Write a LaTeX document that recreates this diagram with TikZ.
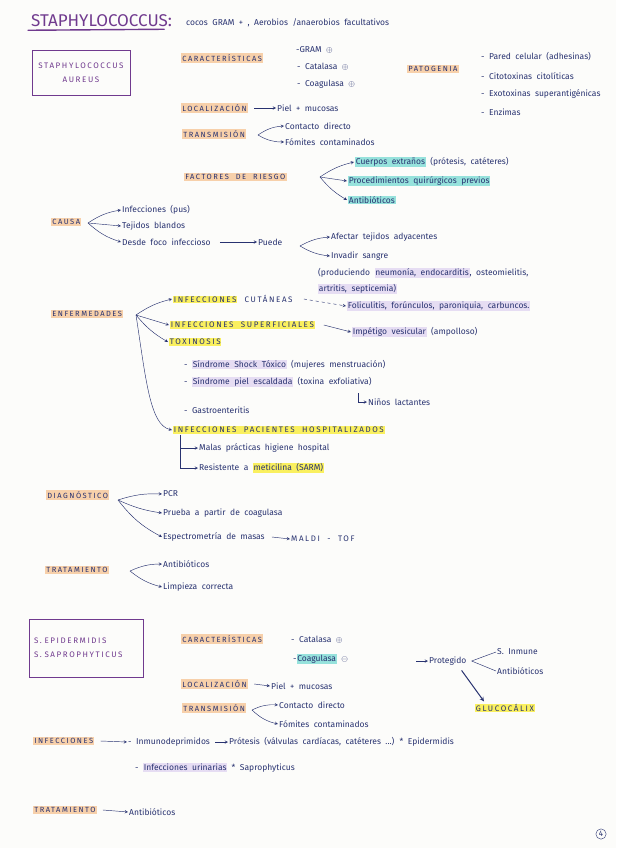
\documentclass[tikz,border=0pt]{standalone}
\usepackage{fontspec}
\setmainfont{Fira Sans}[WordSpace=2]
\newfontfamily\cabecera[LetterSpace=20, WordSpace=2]{Fira Sans}
\usepackage{amssymb}
\usepackage{tikz}
\usetikzlibrary{positioning, arrows.meta, calc}

\definecolor{tinta}{RGB}{40,50,112}
\definecolor{morado}{RGB}{112,58,142}
\definecolor{naranja}{RGB}{247,208,170}
\definecolor{turquesa}{RGB}{150,226,220}
\definecolor{amarillo}{RGB}{250,240,95}
\definecolor{lila}{RGB}{230,221,243}
\definecolor{papel}{RGB}{252,252,250}

\newcommand{\resalta}[2]{{\setlength{\fboxsep}{0.7pt}\colorbox{#1}{#2}}}
\newcommand{\pos}{$\oplus$}
\newcommand{\nega}{$\ominus$}

\tikzset{
  arrow/.style={->,>=stealth, line width=0.45pt, draw=tinta},
  linea/.style={line width=0.45pt, draw=tinta}
}

\begin{document}
\begin{tikzpicture}[x=1pt, y=-1pt,
        texto/.style={anchor=west, inner sep=1pt, text=tinta, font=\fontsize{8.5}{9.5}\selectfont},
        mayus/.style={anchor=west, inner sep=1pt, text=tinta, font=\cabecera\fontsize{8}{9}\selectfont},
        seccion/.style={anchor=west, inner sep=1.2pt, fill=naranja, text=tinta, font=\cabecera\fontsize{7.5}{9}\selectfont},
        caja/.style={draw=morado, line width=0.7pt, text=morado, inner sep=5pt, font=\cabecera\fontsize{8}{14}\selectfont}]

        % Hoja
        \useasboundingbox (0,0) rectangle (616,848);
        \fill[papel] (0,0) rectangle (616,848);

        % Titulo
        \node (titulo) [anchor=west, inner sep=0pt, text=morado, font=\fontsize{17}{17}\selectfont] at (31,21) {STAPHYLOCOCCUS:};
        \node (subtit) [texto, font=\fontsize{8.5}{9}\selectfont] at (185,23) {cocos GRAM + , Aerobios /anaerobios facultativos};
        \draw [morado, line width=1.4pt, line cap=round] ([xshift=-3pt,yshift=-3pt]titulo.south west) -- ([xshift=-8pt,yshift=-2pt]titulo.south east);

        % Staphylococcus aureus
        \node (aureus) [caja, align=center, minimum width=98pt, minimum height=45pt] at (81,73) {STAPHYLOCOCCUS\\AUREUS};

        \node (carac) [seccion] at (181,58) {CARACTERÍSTICAS};
        \node (gram) [texto] at (295,50) {-GRAM \pos};
        \node (catal) [texto] at (296,67) {- Catalasa \pos};
        \node (coag) [texto] at (296,84) {- Coagulasa \pos};

        \node (patog) [seccion] at (407,69) {PATOGENIA};
        \node (pared) [texto] at (480,57) {- Pared celular (adhesinas)};
        \node (citot) [texto] at (480,76) {- Citotoxinas citolíticas};
        \node (exot) [texto] at (480,94) {- Exotoxinas superantigénicas};
        \node (enzim) [texto] at (480,112) {- Enzimas};

        \node (local) [seccion] at (181,108) {LOCALIZACIÓN};
        \node (piel) [texto] at (276,108) {Piel + mucosas};
        \draw [arrow] ([xshift=6pt]local.east) -- (piel.west);

        \node (trans) [seccion] at (182,134) {TRANSMISIÓN};
        \node (contacto) [texto] at (284,126) {Contacto directo};
        \node (fomites) [texto] at (284,142) {Fómites contaminados};
        \coordinate (t0) at (258,135);
        \draw [arrow] (t0) to[bend left=15] (contacto.west);
        \draw [arrow] (t0) to[bend right=15] (fomites.west);

        % Factores de riesgo
        \node (riesgo) [seccion] at (184,177) {FACTORES DE RIESGO};
        \node (cuerpos) [texto] at (354,162) {\resalta{turquesa}{Cuerpos extraños} (prótesis, catéteres)};
        \node (proced) [texto] at (347,181) {\resalta{turquesa}{Procedimientos quirúrgicos previos}};
        \node (antib) [texto] at (347,200) {\resalta{turquesa}{Antibióticos}};
        \coordinate (r0) at (320,177);
        \draw [arrow] (r0) to[bend left=10] (cuerpos.west);
        \draw [arrow] (r0) -- (proced.west);
        \draw [arrow] (r0) to[bend right=10] (antib.west);

        % Causa
        \node (causa) [seccion] at (51,222) {CAUSA};
        \node (infec) [texto] at (121,210) {Infecciones (pus)};
        \node (tejidos) [texto] at (121,226) {Tejidos blandos};
        \node (foco) [texto] at (121,242) {Desde foco infeccioso};
        \coordinate (c0) at (88,223);
        \draw [arrow] (c0) to[bend left=12] (infec.west);
        \draw [arrow] (c0) -- (tejidos.west);
        \draw [arrow] (c0) to[bend right=12] (foco.west);
        \node (puede) [texto] at (257,242) {Puede};
        \draw [arrow] ([xshift=8pt]foco.east) -- (puede.west);
        \node (afectar) [texto] at (330,237) {Afectar tejidos adyacentes};
        \node (invadir) [texto] at (330,256) {Invadir sangre};
        \node (produc) [texto] at (317,273) {(produciendo \resalta{lila}{neumonía, endocarditis}, osteomielitis,};
        \node (produc2) [texto] at (317,289) {\resalta{lila}{artritis, septicemia)}};
        \coordinate (p0) at (300,246);
        \draw [arrow] (p0) to[bend left=12] (afectar.west);
        \draw [arrow] (p0) to[bend right=12] (invadir.west);

        % Enfermedades
        \node (enferm) [seccion] at (51,314) {ENFERMEDADES};
        \node (cutan) [mayus] at (172,299) {\resalta{amarillo}{INFECCIONES} CUTÁNEAS};
        \node (superf) [mayus] at (169,325) {\resalta{amarillo}{INFECCIONES SUPERFICIALES}};
        \node (toxin) [mayus] at (168,342) {\resalta{amarillo}{TOXINOSIS}};
        \node (hospit) [mayus] at (172,430) {\resalta{amarillo}{INFECCIONES PACIENTES HOSPITALIZADOS}};
        \coordinate (e0) at (136,315);
        \draw [arrow] (e0) to[bend left=10] (cutan.west);
        \draw [arrow] (e0) -- (superf.west);
        \draw [arrow] (e0) to[bend right=10] (toxin.west);
        \draw [arrow] (e0) .. controls (146,380) and (150,425) .. (hospit.west);

        \node (folic) [texto] at (346,306) {\resalta{lila}{Foliculitis, forúnculos, paroniquia, carbuncos.}};
        \draw [arrow, dashed] ([xshift=10pt]cutan.east) -- (folic.west);
        \node (impet) [texto] at (351,332) {\resalta{lila}{Impétigo vesicular} (ampolloso)};
        \draw [arrow] ([xshift=8pt]superf.east) -- (impet.west);

        \node (shock) [texto] at (183,365) {- \resalta{lila}{Síndrome Shock Tóxico} (mujeres menstruación)};
        \node (escald) [texto] at (183,382) {- \resalta{lila}{Síndrome piel escaldada} (toxina exfoliativa)};
        \node (ninos) [texto] at (367,402) {Niños lactantes};
        \draw [arrow] ([xshift=-9pt,yshift=9pt]ninos.west) |- (ninos.west);
        \node (gastro) [texto] at (183,410) {- Gastroenteritis};

        \node (malas) [texto] at (198,448) {Malas prácticas higiene hospital};
        \node (resist) [texto] at (198,468) {Resistente a \resalta{amarillo}{meticilina (SARM)}};
        \draw [arrow] ([xshift=8pt]hospit.south west) |- (malas.west);
        \draw [arrow] ([xshift=8pt]hospit.south west) |- (resist.west);

        % Diagnostico
        \node (diag) [seccion] at (46,495) {DIAGNÓSTICO};
        \node (pcr) [texto] at (162,494) {PCR};
        \node (prueba) [texto] at (162,513) {Prueba a partir de coagulasa};
        \node (espect) [texto] at (162,537) {Espectrometría de masas};
        \node (maldi) [mayus] at (290,539) {MALDI - TOF};
        \draw [arrow] ([xshift=6pt]espect.east) -- (maldi.west);
        \coordinate (d0) at (118,500);
        \draw [arrow] (d0) to[bend left=10] (pcr.west);
        \draw [arrow] (d0) to[bend right=8] (prueba.west);
        \draw [arrow] (d0) to[bend right=12] (espect.west);

        % Tratamiento
        \node (trat) [seccion] at (45,570) {TRATAMIENTO};
        \node (antib2) [texto] at (162,564) {Antibióticos};
        \node (limp) [texto] at (162,587) {Limpieza correcta};
        \coordinate (tr0) at (130,571);
        \draw [arrow] (tr0) to[bend left=12] (antib2.west);
        \draw [arrow] (tr0) to[bend right=12] (limp.west);

        % S. epidermidis / S. saprophyticus
        \node (epider) [caja, align=left, text width=104pt, minimum height=58pt] at (86,648) {S. EPIDERMIDIS\\S. SAPROPHYTICUS};

        \node (carac2) [seccion] at (181,639) {CARACTERÍSTICAS};
        \node (catal2) [texto] at (290,640) {- Catalasa \pos};
        \node (coag2) [texto] at (292,659) {-\resalta{turquesa}{Coagulasa} \nega};

        \coordinate (pr0) at (416,661);
        \node (proteg) [texto] at (428,661) {Protegido};
        \draw [arrow] (pr0) -- (proteg.west);
        \node (inmune) [texto] at (496,652) {S. Inmune};
        \node (antib3) [texto] at (496,671) {Antibióticos};
        \draw [linea] ([xshift=4pt]proteg.east) -- (inmune.west);
        \draw [linea] ([xshift=4pt]proteg.east) -- (antib3.west);
        \node (glucoc) [mayus] at (474,708) {\resalta{amarillo}{GLUCOCÁLIX}};
        \draw [arrow, line width=1pt] ([xshift=-6pt,yshift=-4pt]proteg.south east) -- ([xshift=10pt,yshift=1pt]glucoc.north west);

        \node (local2) [seccion] at (181,684) {LOCALIZACIÓN};
        \node (piel2) [texto] at (270,686) {Piel + mucosas};
        \draw [arrow] ([xshift=6pt]local2.east) -- (piel2.west);

        \node (trans2) [seccion] at (182,708) {TRANSMISIÓN};
        \node (contacto2) [texto] at (278,705) {Contacto directo};
        \node (fomites2) [texto] at (278,724) {Fómites contaminados};
        \coordinate (t1) at (252,710);
        \draw [arrow] (t1) to[bend left=15] (contacto2.west);
        \draw [arrow] (t1) to[bend right=15] (fomites2.west);

        \node (infecc) [seccion] at (33,741) {INFECCIONES};
        \node (inmuno) [texto] at (127,742) {- Inmunodeprimidos};
        \node (protesis) [texto] at (228,742) {Prótesis (válvulas cardíacas, catéteres ...) * Epidermidis};
        \node (urin) [texto] at (134,768) {- \resalta{lila}{Infecciones urinarias} * Saprophyticus};
        \draw [arrow] ([xshift=6pt]infecc.east) -- (inmuno.west);
        \draw [arrow] ([xshift=4pt]inmuno.east) -- (protesis.west);

        \node (trat2) [seccion] at (33,810) {TRATAMIENTO};
        \node (antib4) [texto] at (128,812) {Antibióticos};
        \draw [arrow] ([xshift=6pt]trat2.east) -- (antib4.west);

        % Pagina
        \node (pagina) [circle, draw=tinta, text=tinta, inner sep=1.2pt, font=\fontsize{8}{8}\selectfont] at (601,834) {4};

\end{tikzpicture}
\end{document}
